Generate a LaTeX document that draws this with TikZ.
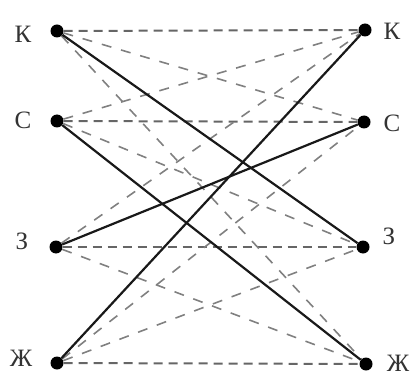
\documentclass[tikz,border=0pt]{standalone}
\usepackage{fontspec}
\setmainfont{Liberation Serif}
\begin{document}
\begin{tikzpicture}[x=1pt,y=-1pt,
  dot/.style={circle,fill=black,inner sep=0pt,minimum size=13pt},
  lab/.style={font=\fontsize{25}{25}\selectfont,text=black!80,inner sep=0pt},
  solidline/.style={line width=2.2pt,black!90},
  hdash/.style={line width=2pt,black!60,dash pattern=on 9pt off 6pt},
  ddash/.style={line width=1.6pt,black!50,dash pattern=on 10pt off 10pt}]
\useasboundingbox (0,0) rectangle (411,379);
\node[dot] (lK) at (57,31) {};
\node[dot] (lS) at (57,121) {};
\node[dot] (lZ) at (56,247) {};
\node[dot] (lZh) at (57,363) {};
\node[dot] (rK) at (365,30) {};
\node[dot] (rS) at (364,122) {};
\node[dot] (rZ) at (363,247) {};
\node[dot] (rZh) at (366,364) {};
\node[lab] (tlK) at (23,34) {К};
\node[lab] (tlS) at (23,120) {С};
\node[lab] (tlZ) at (22,241) {З};
\node[lab] (tlZh) at (21,358) {Ж};
\node[lab] (trK) at (392,31) {К};
\node[lab] (trS) at (392,123) {С};
\node[lab] (trZ) at (389,236) {З};
\node[lab] (trZh) at (398,363) {Ж};
% horizontal dashed
\draw[hdash] (lK) -- (rK);
\draw[hdash] (lS) -- (rS);
\draw[hdash] (lZ) -- (rZ);
\draw[hdash] (lZh) -- (rZh);
% diagonal dashed
\draw[ddash] (lK) -- (rS);
\draw[ddash] (lK) -- (rZh);
\draw[ddash] (lS) -- (rK);
\draw[ddash] (lS) -- (rZ);
\draw[ddash] (lZ) -- (rK);
\draw[ddash] (lZ) -- (rZh);
\draw[ddash] (lZh) -- (rS);
\draw[ddash] (lZh) -- (rZ);
% solid
\draw[solidline] (lK) -- (rZ);
\draw[solidline] (lS) -- (rZh);
\draw[solidline] (lZ) -- (rS);
\draw[solidline] (lZh) -- (rK);
\end{tikzpicture}
\end{document}
